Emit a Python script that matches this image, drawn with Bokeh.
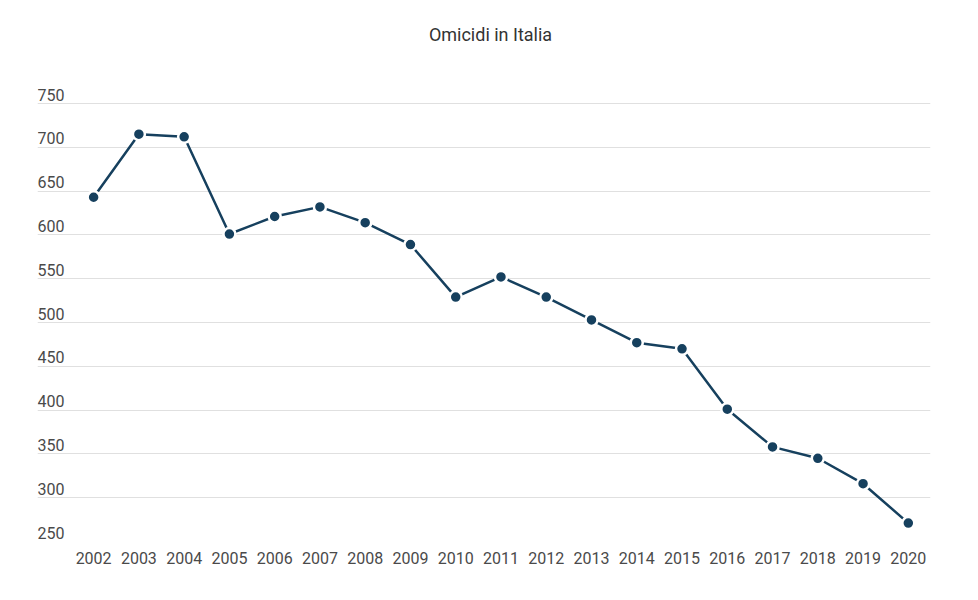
from bokeh.plotting import figure
from bokeh.models import FixedTicker, Label, Range1d
from bokeh.embed import file_html
from bokeh.resources import INLINE

years = [2002, 2003, 2004, 2005, 2006, 2007, 2008, 2009, 2010, 2011,
         2012, 2013, 2014, 2015, 2016, 2017, 2018, 2019, 2020]
homicides = [643, 715, 712, 601, 621, 632, 614, 589, 529, 552,
             529, 503, 477, 470, 401, 358, 345, 316, 271]
y_ticks = [250, 300, 350, 400, 450, 500, 550, 600, 650, 700, 750]
title = "Omicidi in Italia"

FONT = "Roboto"
LINE = "#16405e"

# frame reaches the top of the canvas so the title can sit inside it
p = figure(width=962, height=584, output_backend="svg", toolbar_location=None,
           x_range=Range1d(2000.76, 2020.49), y_range=Range1d(250, 867.6),
           y_axis_location=None, min_border_left=37, min_border_right=32,
           min_border_top=0, min_border_bottom=43)
p.outline_line_color = None

p.xgrid.visible = False
p.ygrid.ticker = FixedTicker(ticks=y_ticks)
p.ygrid.grid_line_color = "#e0e0e0"
p.ygrid.grid_line_width = 1

ax = p.xaxis[0]
ax.ticker = FixedTicker(ticks=years)
ax.axis_line_color = None
ax.major_tick_line_color = None
ax.minor_tick_line_color = None
ax.major_label_standoff = 4
ax.major_label_text_font = FONT
ax.major_label_text_font_size = "16px"
ax.major_label_text_color = "#4a4a4a"

for t in y_ticks:
    p.add_layout(Label(x=0, x_units="screen", y=t, y_units="data", y_offset=3,
                       text=str(t), text_font=FONT, text_font_size="16px",
                       text_color="#4a4a4a", text_baseline="bottom"))

p.add_layout(Label(x=453, x_units="screen", y=828.8, y_units="data",
                   text=title, text_font=FONT, text_font_size="18px",
                   text_color="#333333", text_align="center",
                   text_baseline="middle"))

p.line(years, homicides, line_color=LINE, line_width=2.5)
p.scatter(years, homicides, size=12, fill_color=LINE, line_color="white",
          line_width=2.5)

open("out.html", "w").write(file_html(p, INLINE))
